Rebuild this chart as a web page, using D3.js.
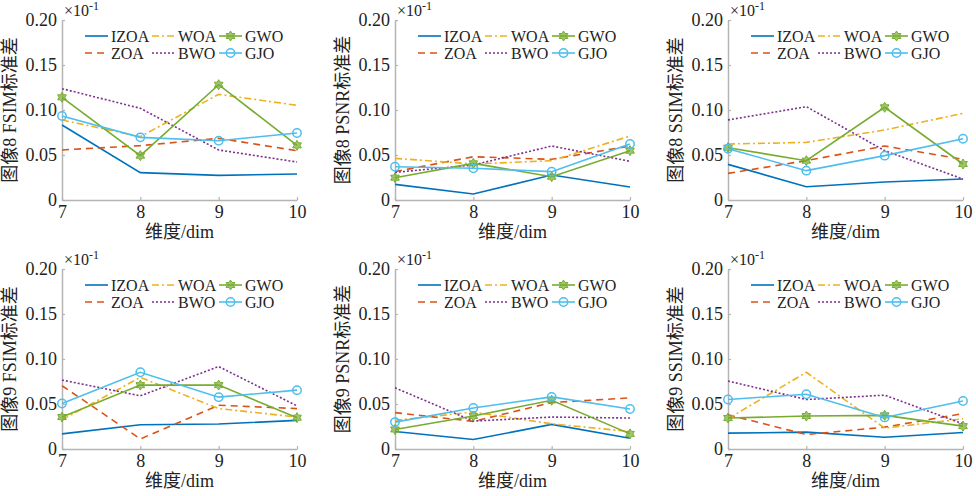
<!DOCTYPE html>
<html>
<head>
<meta charset="utf-8">
<script src="https://cdn.jsdelivr.net/npm/d3@7"></script>
<style>
  body { margin: 0; background: #fff; }
  svg text { font-family: "Liberation Serif", "Noto Sans CJK SC", serif; fill: #222; }
</style>
</head>
<body>
<svg id="chart" width="976" height="496"></svg>
<script>
// series order: IZOA, ZOA, WOA, BWO, GWO, GJO
const seriesNames = ["IZOA", "ZOA", "WOA", "BWO", "GWO", "GJO"];
const dims = [7, 8, 9, 10];
const yTicks = [0, 0.05, 0.10, 0.15, 0.20];
const yLabels = ["图像8 FSIM标准差", "图像8 PSNR标准差", "图像8 SSIM标准差",
                 "图像9 FSIM标准差", "图像9 PSNR标准差", "图像9 SSIM标准差"];

const img8FSIM = [
    [0.0833, 0.0304, 0.0274, 0.0289],
    [0.0556, 0.0604, 0.0685, 0.0548],
    [0.0889, 0.0704, 0.1174, 0.1052],
    [0.1237, 0.1019, 0.0556, 0.0422],
    [0.1141, 0.0493, 0.1281, 0.0607],
    [0.0933, 0.0696, 0.0659, 0.0744]
];
const img8PSNR = [
    [0.0174, 0.0067, 0.0278, 0.0144],
    [0.0315, 0.0481, 0.0452, 0.0600],
    [0.0463, 0.0400, 0.0437, 0.0711],
    [0.0307, 0.0389, 0.0600, 0.0430],
    [0.0248, 0.0407, 0.0259, 0.0548],
    [0.0370, 0.0352, 0.0315, 0.0622]
];
const img8SSIM = [
    [0.0396, 0.0148, 0.0200, 0.0233],
    [0.0296, 0.0437, 0.0600, 0.0452],
    [0.0622, 0.0640, 0.0778, 0.0963],
    [0.0889, 0.1037, 0.0548, 0.0233],
    [0.0581, 0.0437, 0.1030, 0.0400],
    [0.0570, 0.0326, 0.0493, 0.0681]
];
const img9FSIM = [
    [0.0168, 0.0269, 0.0277, 0.0318],
    [0.0703, 0.0112, 0.0486, 0.0449],
    [0.0325, 0.0796, 0.0449, 0.0355],
    [0.0766, 0.0591, 0.0916, 0.0479],
    [0.0355, 0.0710, 0.0710, 0.0348],
    [0.0505, 0.0852, 0.0576, 0.0654]
];
const img9PSNR = [
    [0.0194, 0.0105, 0.0273, 0.0120],
    [0.0404, 0.0307, 0.0516, 0.0568],
    [0.0318, 0.0411, 0.0280, 0.0194],
    [0.0680, 0.0310, 0.0355, 0.0344],
    [0.0217, 0.0366, 0.0542, 0.0168],
    [0.0299, 0.0456, 0.0579, 0.0445]
];
const img9SSIM = [
    [0.0176, 0.0187, 0.0131, 0.0183],
    [0.0381, 0.0161, 0.0243, 0.0393],
    [0.0336, 0.0852, 0.0232, 0.0336],
    [0.0755, 0.0550, 0.0598, 0.0280],
    [0.0344, 0.0366, 0.0374, 0.0254],
    [0.0550, 0.0609, 0.0351, 0.0534]
];
const panelData = [img8FSIM, img8PSNR, img8SSIM, img9FSIM, img9PSNR, img9SSIM];

// MATLAB default colours and line styles
const colors = ["#0072BD", "#D95319", "#EDB120", "#7E2F8E", "#77AC30", "#4DBEEE"];
const dashes = [null, "7,5", "7,3,2,3", "2,2", null, null];
const markers = [null, null, null, null, "hex", "circle"];

const svg = d3.select("#chart");
const colX = [[62, 297], [395, 630], [728, 963]];
const rowY = [[200, 20], [449, 269]];

// six-pointed star
function hexagram(r) {
    let pts = [];
    for (let i = 0; i < 12; i++) {
        let a = -Math.PI / 2 + i * Math.PI / 6;
        let rr = i % 2 == 0 ? r : r * 0.58;
        pts.push([rr * Math.cos(a), rr * Math.sin(a)]);
    }
    return "M" + pts.map(p => p.join(",")).join("L") + "Z";
}

function drawMarker(g, type, x, y, color) {
    if (type == "hex") {
        g.append("path").attr("d", hexagram(5))
            .attr("transform", `translate(${x},${y})`)
            .attr("fill", color).attr("fill-opacity", 0.7)
            .attr("stroke", color).attr("stroke-width", 1);
    } else if (type == "circle") {
        g.append("circle").attr("cx", x).attr("cy", y).attr("r", 4.2)
            .attr("fill", "none").attr("stroke", color).attr("stroke-width", 1.5);
    }
}

panelData.forEach((series, pi) => {
    const cx = colX[pi % 3], ry = rowY[Math.floor(pi / 3)];
    const x = d3.scaleLinear().domain([7, 10]).range(cx);
    const y = d3.scaleLinear().domain([0, 0.20]).range(ry);
    const g = svg.append("g");

    // axes
    const xAxis = d3.axisBottom(x).tickValues(dims).tickSizeInner(-3).tickSizeOuter(0).tickPadding(8)
        .tickFormat(d3.format("d"));
    const yAxis = d3.axisLeft(y).tickValues(yTicks).tickSizeInner(-3).tickSizeOuter(0).tickPadding(5)
        .tickFormat(d => d == 0 ? "0" : d3.format(".2f")(d));
    const gx = g.append("g").attr("transform", `translate(0,${ry[0]})`).call(xAxis);
    const gy = g.append("g").attr("transform", `translate(${cx[0]},0)`).call(yAxis);
    [gx, gy].forEach(a => {
        a.select(".domain").attr("stroke", "#b4b4b4").attr("stroke-width", 1.5);
        a.selectAll(".tick line").attr("stroke", "#b4b4b4").attr("stroke-width", 1.2);
        a.selectAll(".tick text").attr("font-size", 18)
            .style("font-family", "'Liberation Serif', serif").attr("fill", "#222");
    });
    gx.selectAll(".tick text").attr("dy", "0.55em");

    // exponent label
    const ex = g.append("text").attr("x", cx[0] + 2).attr("y", ry[1] - 4).attr("font-size", 16);
    ex.append("tspan").text("×10");
    ex.append("tspan").attr("dy", -6).attr("font-size", 12).text("-1");

    // axis titles
    g.append("text").attr("x", (cx[0] + cx[1]) / 2).attr("y", ry[0] + 38)
        .attr("text-anchor", "middle").attr("font-size", 18).text("维度/dim");
    g.append("text")
        .attr("transform", `translate(${cx[0] - 46},${(ry[0] + ry[1]) / 2}) rotate(-90)`)
        .attr("text-anchor", "middle").attr("font-size", 18).text(yLabels[pi]);

    // lines
    const line = d3.line().x((d, i) => x(dims[i])).y(d => y(d));
    series.forEach((vals, si) => {
        g.append("path").datum(vals).attr("d", line)
            .attr("fill", "none").attr("stroke", colors[si]).attr("stroke-width", 1.6)
            .attr("stroke-dasharray", dashes[si]);
        if (markers[si]) vals.forEach((v, i) => drawMarker(g, markers[si], x(dims[i]), y(v), colors[si]));
    });

    // legend
    const lg = g.append("g");
    seriesNames.forEach((name, si) => {
        const col = Math.floor(si / 2), row = si % 2;
        const lx = cx[0] + 23 + col * 67;
        const ly = ry[1] + 16 + row * 17;
        lg.append("line").attr("x1", lx).attr("x2", lx + 23).attr("y1", ly).attr("y2", ly)
            .attr("stroke", colors[si]).attr("stroke-width", 1.6).attr("stroke-dasharray", dashes[si]);
        if (markers[si]) drawMarker(lg, markers[si], lx + 11.5, ly, colors[si]);
        lg.append("text").attr("x", lx + 26).attr("y", ly).attr("dy", "0.35em")
            .attr("font-size", 16).text(name);
    });
});
</script>
</body>
</html>
